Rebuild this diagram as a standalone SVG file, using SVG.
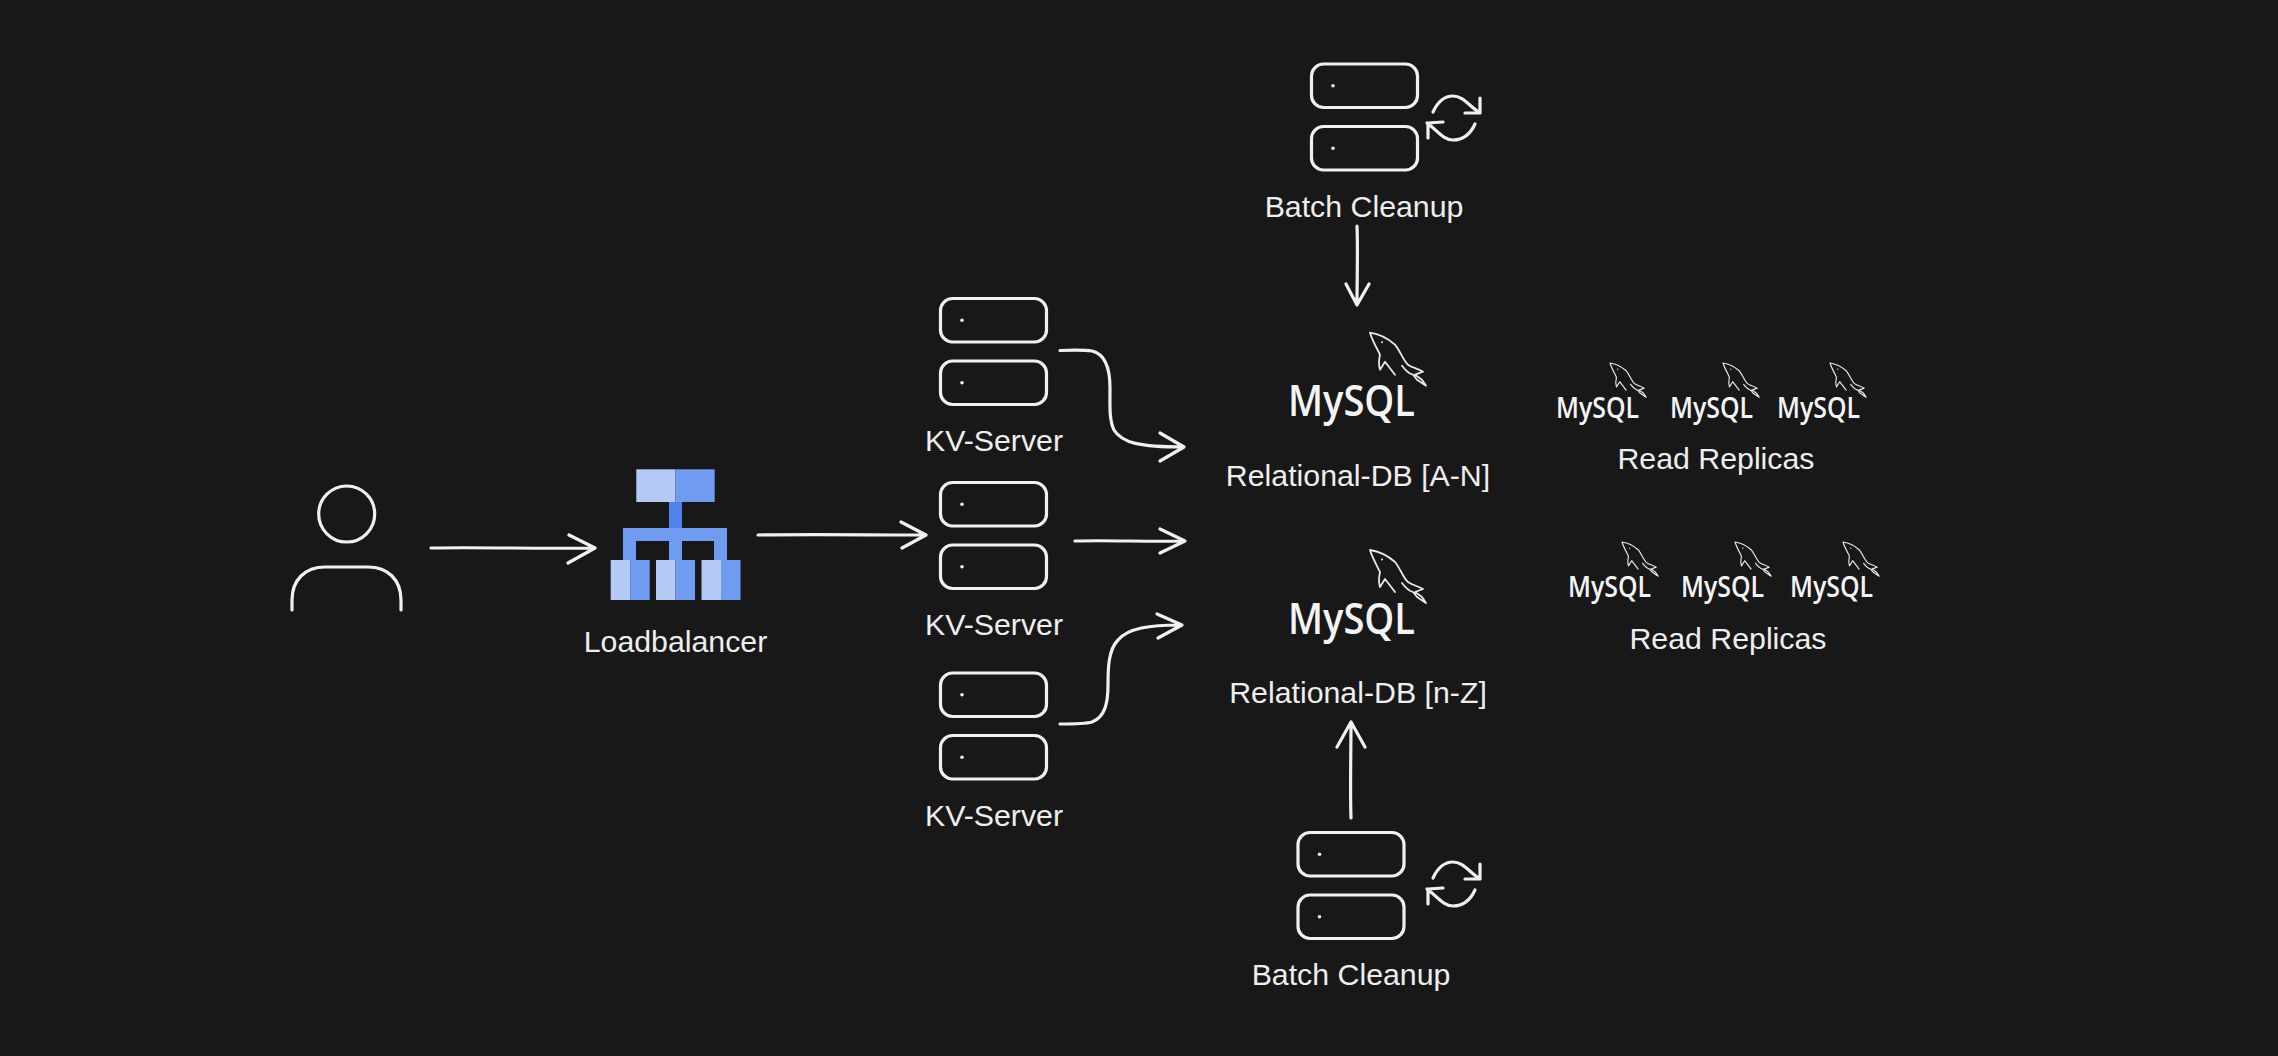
<svg xmlns="http://www.w3.org/2000/svg" xmlns:xlink="http://www.w3.org/1999/xlink" width="2278" height="1056" viewBox="0 0 2278 1056">
<style>
.l{fill:none;stroke:#f0f0f0;stroke-width:3.200;stroke-linecap:round;stroke-linejoin:round}
.t{font-family:"Liberation Sans",Arial,sans-serif;font-size:30.300px;fill:#eeeeee;text-anchor:middle}
.my{font-family:"Open Sans","Noto Sans",sans-serif;font-weight:600;font-size:44px;fill:#f4f4f4}
.my2{font-family:"Open Sans","Noto Sans",sans-serif;font-weight:600;font-size:28.500px;fill:#f4f4f4}
.d{fill:none;stroke:#e8e8e8;stroke-width:1.800;stroke-linejoin:round;stroke-linecap:round}
.a{fill:#b3caf7}.b{fill:#6f9cf0}.c{fill:#5283ec}
</style>
<defs>
<g id="server">
<rect class="l" x="0" y="0" width="106" height="43.500" rx="12"/>
<rect class="l" x="0" y="62.500" width="106" height="43.500" rx="12"/>
<circle cx="21.500" cy="21.800" r="1.800" fill="#f0f0f0"/>
<circle cx="21.500" cy="84.200" r="1.800" fill="#f0f0f0"/>
</g>
<g id="refresh">
<path class="l" d="M0,16 C6,3 13,0 20,0 C30,0 36,10 47,17 M47,2 L47,17 L32,17"/>
<path class="l" d="M42,28 C36,41 28,44 20,44 C10,44 4,34 -6,27 M-5,42 L-5,27 L10,26"/>
</g>
<g id="dolphin">
<path class="d" d="M0,0 C7,1 17,5 25,12 C30,18 34,29 38,32 C42,35 48,36 53,39 L45,42 L52,47 L56,53 L47,47 L43,42 C39,41 35,37 32,33 M0,0 C2,7 7,16 10,22 C9,27 8,31 10,37 L15,29 L25,42"/>
<circle cx="12" cy="9.500" r="1" fill="#e8e8e8"/>
</g>
</defs>
<rect width="2278" height="1056" fill="#181818"/>

<g id="connectors">
<path class="l" d="M431,548 C480,547 540,549 594,548 M569,535 L595,548 L568,563"/>
<path class="l" d="M758,535 C810,534 870,535 925,535 M901,522 L926,535 L902,548"/>
<path class="l" d="M1075,541 C1110,540 1150,542 1184,541 M1160,529 L1185,541 L1160,553"/>
<path class="l" d="M1060,350.500 C1075,350 1085,350 1092,351 C1105,354 1110,368 1110,388 C1110,405 1109,420 1114,430 C1122,443 1140,447 1183,447 M1160,433 L1184,447 L1160,461"/>
<path class="l" d="M1060,724 C1075,724 1085,724 1092,722 C1105,717 1108,703 1108,685 C1108,670 1108,650 1118,640 C1128,628 1150,625 1180,625 M1157,614 L1182,625 L1158,638"/>
<path class="l" d="M1357,226 C1358,250 1357,280 1357,305 M1346,284 L1357,305 L1369,284"/>
<path class="l" d="M1351,818 C1350,790 1351,750 1351,723 M1337,747 L1351,722 L1365,747"/>
</g>

<g id="user">
<circle class="l" cx="346.700" cy="514" r="28"/>
<path class="l" d="M292,610 L292,600 C292,580 305,567 325,567 L368,567 C388,567 401,580 401,600 L401,610"/>
</g>

<g id="loadbalancer">
<rect class="a" x="636.300" y="469.300" width="39.200" height="32.700"/>
<rect class="b" x="675.500" y="469.300" width="39.200" height="32.700"/>
<rect class="c" x="669" y="502" width="13" height="26"/>
<path class="b" d="M623,528 H727 V560 H714 V541 H682 V560 H669 V541 H636 V560 H623 Z"/>
<rect class="a" x="610.700" y="560" width="19.500" height="40"/>
<rect class="b" x="630.200" y="560" width="19.500" height="40"/>
<rect class="a" x="656" y="560" width="19.500" height="40"/>
<rect class="b" x="675.500" y="560" width="19.500" height="40"/>
<rect class="a" x="701.500" y="560" width="19.500" height="40"/>
<rect class="b" x="721" y="560" width="19.500" height="40"/>
<text class="t" x="675.500" y="652">Loadbalancer</text>
</g>

<g id="kv-server-1"><use href="#server" x="940.500" y="298.500"/><text class="t" x="994" y="451">KV-Server</text></g>
<g id="kv-server-2"><use href="#server" x="940.500" y="482.500"/><text class="t" x="994" y="635">KV-Server</text></g>
<g id="kv-server-3"><use href="#server" x="940.500" y="673"/><text class="t" x="994" y="826">KV-Server</text></g>

<g id="batch-cleanup-top"><use href="#server" x="1311.500" y="64"/><use href="#refresh" x="1433" y="96"/><text class="t" x="1364" y="217">Batch Cleanup</text></g>
<g id="batch-cleanup-bottom"><use href="#server" x="1298" y="832.500"/><use href="#refresh" x="1433" y="862"/><text class="t" x="1351" y="985">Batch Cleanup</text></g>

<g id="db-a-n">
<use href="#dolphin" x="1370" y="332.700"/>
<text class="my" x="1288" y="416" textLength="127" lengthAdjust="spacingAndGlyphs">MySQL</text>
<text class="t" x="1358" y="486">Relational-DB [A-N]</text>
</g>
<g id="db-n-z">
<use href="#dolphin" x="1370" y="550"/>
<text class="my" x="1288" y="634" textLength="127" lengthAdjust="spacingAndGlyphs">MySQL</text>
<text class="t" x="1358" y="703">Relational-DB [n-Z]</text>
</g>

<g id="replicas-a-n">
<use href="#dolphin" transform="translate(1610,363) scale(.645)"/>
<text class="my2" x="1556" y="418" textLength="83" lengthAdjust="spacingAndGlyphs">MySQL</text>
<use href="#dolphin" transform="translate(1723,363) scale(.645)"/>
<text class="my2" x="1670" y="418" textLength="83" lengthAdjust="spacingAndGlyphs">MySQL</text>
<use href="#dolphin" transform="translate(1830,363) scale(.645)"/>
<text class="my2" x="1777" y="418" textLength="83" lengthAdjust="spacingAndGlyphs">MySQL</text>
<text class="t" x="1716" y="468.500">Read Replicas</text>
</g>
<g id="replicas-n-z">
<use href="#dolphin" transform="translate(1622,542) scale(.645)"/>
<text class="my2" x="1568" y="597" textLength="83" lengthAdjust="spacingAndGlyphs">MySQL</text>
<use href="#dolphin" transform="translate(1735,542) scale(.645)"/>
<text class="my2" x="1681" y="597" textLength="83" lengthAdjust="spacingAndGlyphs">MySQL</text>
<use href="#dolphin" transform="translate(1843,542) scale(.645)"/>
<text class="my2" x="1790" y="597" textLength="83" lengthAdjust="spacingAndGlyphs">MySQL</text>
<text class="t" x="1728" y="648.500">Read Replicas</text>
</g>
</svg>
